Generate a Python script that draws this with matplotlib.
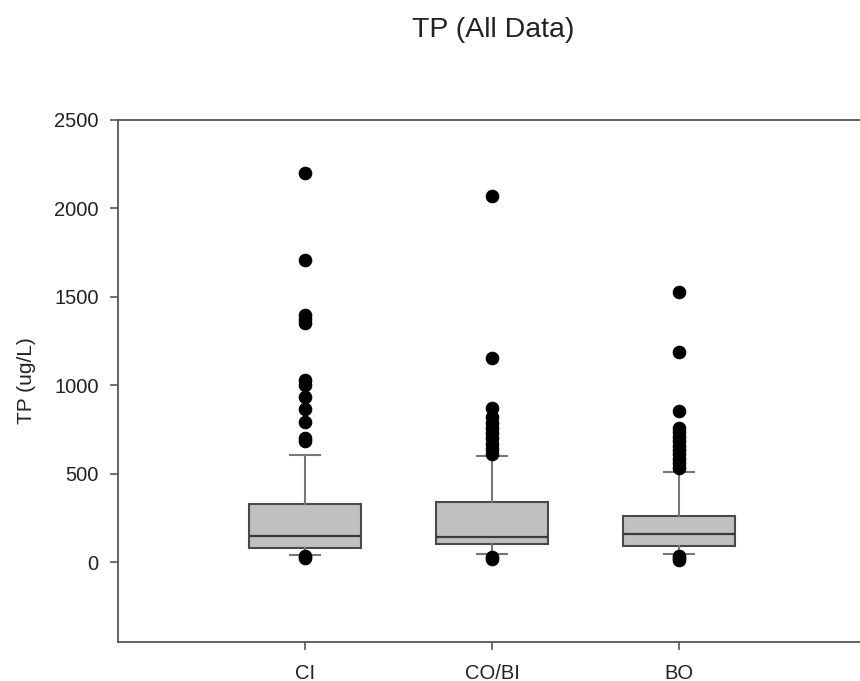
import matplotlib
matplotlib.use('Agg')
import matplotlib.pyplot as plt

plt.rcParams['font.family'] = ['Liberation Sans', 'DejaVu Sans']

# box statistics (ug/L)
sites = ['CI', 'CO/BI', 'BO']
q1 = [83, 102, 92]
med = [148, 145, 160]
q3 = [332, 341, 263]
whis_lo = [44, 46, 50]
whis_hi = [607, 600, 512]
fliers_ci = [2200, 1710, 1400, 1378, 1355, 1030, 1005, 936, 868, 795, 700, 685, 35, 22]
fliers_cobi = [2072, 1155, 870, 820, 790, 760, 730, 700, 670, 640, 615, 32, 18]
fliers_bo = [1530, 1191, 857, 760, 735, 710, 685, 660, 635, 610, 585, 560, 535, 38, 24, 12]
yticks = [0, 500, 1000, 1500, 2000, 2500]

fliers = [fliers_ci, fliers_cobi, fliers_bo]
stats = []
for i in range(len(sites)):
    stats.append(dict(label=sites[i], q1=q1[i], med=med[i], q3=q3[i],
                      whislo=whis_lo[i], whishi=whis_hi[i], fliers=fliers[i]))

fig = plt.figure(figsize=(8.6, 6.81), dpi=100)
ax = fig.add_axes([0.1372, 0.0573, 0.8628, 0.7665])

ax.bxp(stats, positions=[1, 2, 3], widths=0.6, capwidths=0.16, patch_artist=True,
       boxprops=dict(facecolor='#c0c0c0', edgecolor='#4a4a4a', linewidth=1.5),
       medianprops=dict(color='#3a3a3a', linewidth=1.6),
       whiskerprops=dict(color='#777777', linewidth=1.5),
       capprops=dict(color='#777777', linewidth=1.5),
       flierprops=dict(marker='o', markerfacecolor='black', markeredgecolor='black',
                       markersize=9, markeredgewidth=0.8))

ax.set_xlim(0, 3.968)
ax.set_ylim(-450, 2500)
ax.set_yticks(yticks)
ax.set_xticks([1, 2, 3])
ax.set_xticklabels(sites)

for s in ['left', 'top', 'bottom']:
    ax.spines[s].set_color('#555555')
    ax.spines[s].set_linewidth(1.3)
ax.spines['right'].set_visible(False)

ax.tick_params(axis='both', direction='out', length=6, width=1.2, color='#555555',
               labelsize=14.5, labelcolor='#222222')
ax.tick_params(axis='y', pad=8)
ax.tick_params(axis='x', pad=9.5)

ax.set_ylabel('TP (ug/L)', fontsize=15, color='#222222', labelpad=13)
fig.text(0.573, 1 - 37 / 681, 'TP (All Data)', fontsize=20.5, color='#222222',
         ha='center', va='baseline')

fig.savefig('out.png', dpi=100)
